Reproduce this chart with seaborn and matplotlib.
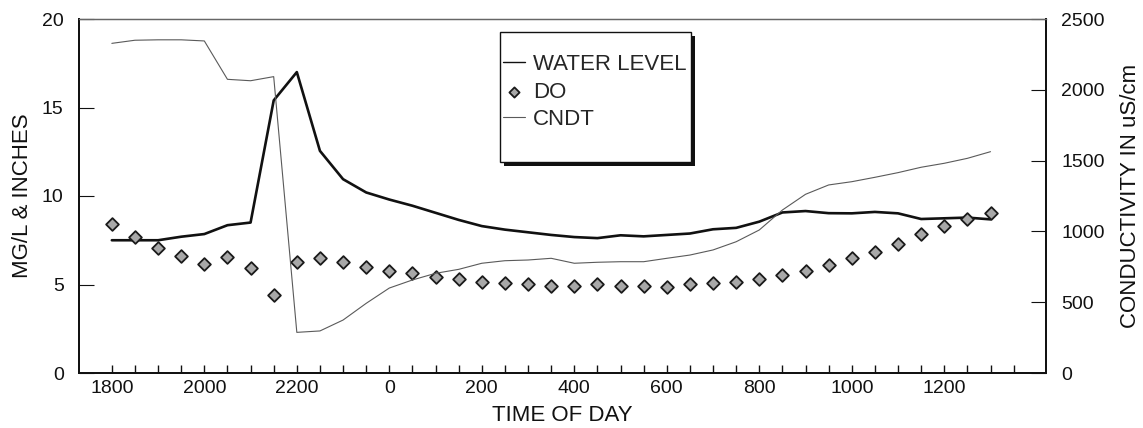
import numpy as np
import pandas as pd
import matplotlib
matplotlib.use("Agg")
import matplotlib.pyplot as plt
from matplotlib.patches import Rectangle
import seaborn as sns

# Half-hourly readings, hours elapsed since 1800
hours = [i * 0.5 for i in range(39)]

water_level = [7.5, 7.5, 7.5, 7.7, 7.85, 8.35, 8.5, 15.4, 17.0, 12.55,
               10.95, 10.2, 9.8, 9.45, 9.05, 8.65, 8.3, 8.1, 7.95, 7.8,
               7.68, 7.62, 7.78, 7.72, 7.8, 7.88, 8.12, 8.2, 8.55, 9.07,
               9.15, 9.03, 9.02, 9.1, 9.02, 8.7, 8.74, 8.78, 8.68]

dissolved_oxygen = [8.4, 7.7, 7.08, 6.63, 6.16, 6.54, 5.91, 4.41, 6.25, 6.48,
                    6.25, 6.01, 5.78, 5.63, 5.44, 5.29, 5.16, 5.07, 5.03, 4.92,
                    4.92, 5.01, 4.92, 4.92, 4.84, 5.03, 5.1, 5.16, 5.29, 5.54,
                    5.78, 6.1, 6.48, 6.85, 7.29, 7.84, 8.32, 8.7, 9.02]

conductivity = [2328, 2350, 2353, 2353, 2345, 2074, 2064, 2093, 287, 297,
                374, 492, 600, 657, 704, 732, 775, 793, 798, 810,
                775, 782, 786, 786, 810, 833, 869, 927, 1010, 1151,
                1262, 1328, 1351, 1382, 1415, 1453, 1481, 1516, 1563]

tick_hours = [0, 2, 4, 6, 8, 10, 12, 14, 16, 18]
tick_labels = ["1800", "2000", "2200", "0", "200", "400", "600", "800", "1000", "1200"]

df = pd.DataFrame({"hours": hours, "water": water_level,
                   "do": dissolved_oxygen, "cndt": conductivity})

sns.set_style("ticks")
plt.rcParams["font.family"] = ["Liberation Sans", "DejaVu Sans"]

fig = plt.figure(figsize=(11.43, 4.28), dpi=100)
ax = fig.add_axes([79 / 1143, 1 - 373 / 428, 967 / 1143, 354 / 428])
ax2 = ax.twinx()

sns.lineplot(data=df, x="hours", y="water", ax=ax, color="#111111",
             linewidth=1.9, label="WATER LEVEL", legend=False)
sns.scatterplot(data=df, x="hours", y="do", ax=ax, marker="D", s=42,
                color="#a8a8a8", edgecolor="#1a1a1a", linewidth=1.3,
                label="DO", legend=False, zorder=3)
sns.lineplot(data=df, x="hours", y="cndt", ax=ax2, color="#5a5a5a",
             linewidth=0.8, label="CNDT", legend=False)

xmin, xmax = -0.71, 20.2
ax.set_xlim(xmin, xmax)
ax.set_ylim(0, 20)
ax2.set_ylim(0, 2500)

minor = np.arange(0, 20, 0.5)
ax.set_xticks(minor)
ax.set_xticklabels([tick_labels[tick_hours.index(h)] if h in tick_hours else ""
                    for h in minor])
ax.set_yticks([0, 5, 10, 15, 20])
ax2.set_yticks([0, 500, 1000, 1500, 2000, 2500])

ax.tick_params(axis="x", direction="in", length=6, width=1.0, labelsize=14,
               pad=5, colors="#111111")
ax.tick_params(axis="y", direction="in", length=11, width=0.8, labelsize=14,
               pad=11, colors="#111111")
ax2.tick_params(axis="y", direction="in", length=11, width=0.8, labelsize=14,
                pad=11, colors="#111111")

ax.set_xlabel("TIME OF DAY", fontsize=16, color="#111111")
ax.set_ylabel("MG/L & INCHES", fontsize=16, color="#111111")
ax2.set_ylabel("CONDUCTIVITY IN uS/cm", fontsize=16, color="#111111")
ax.xaxis.set_label_coords(0.5, -0.09)
ax.yaxis.set_label_coords(-0.048, 0.5)
ax2.yaxis.set_label_coords(1.077, 0.5)

for a in (ax, ax2):
    for side in ("left", "right", "bottom"):
        a.spines[side].set_visible(True)
        a.spines[side].set_color("#111111")
        a.spines[side].set_linewidth(1.3)
    a.spines["top"].set_visible(True)
    a.spines["top"].set_color("#666666")
    a.spines["top"].set_linewidth(0.9)

# Legend box with a solid drop shadow
bx, by, bw, bh = (500 - 79) / 967, (373 - 162) / 354, 191 / 967, 130 / 354
ax2.add_patch(Rectangle((bx + 4 / 967, by - 4 / 354), bw, bh, transform=ax2.transAxes,
                        facecolor="#111111", edgecolor="none", zorder=8))
ax2.add_patch(Rectangle((bx, by), bw, bh, transform=ax2.transAxes,
                        facecolor="white", edgecolor="#111111", linewidth=1.0, zorder=9))

h1, l1 = ax.get_legend_handles_labels()
h2, l2 = ax2.get_legend_handles_labels()
leg = ax2.legend(h1 + h2, l1 + l2, loc="upper left",
                 bbox_to_anchor=((494 - 79) / 967, (373 - 45) / 354),
                 frameon=False, fontsize=16, handlelength=1.0, handletextpad=0.35,
                 labelspacing=0.3, borderaxespad=0, markerscale=0.8)
leg.set_zorder(10)
leg.legend_handles[0].set_linewidth(1.0)

fig.savefig("out.png", dpi=100)
